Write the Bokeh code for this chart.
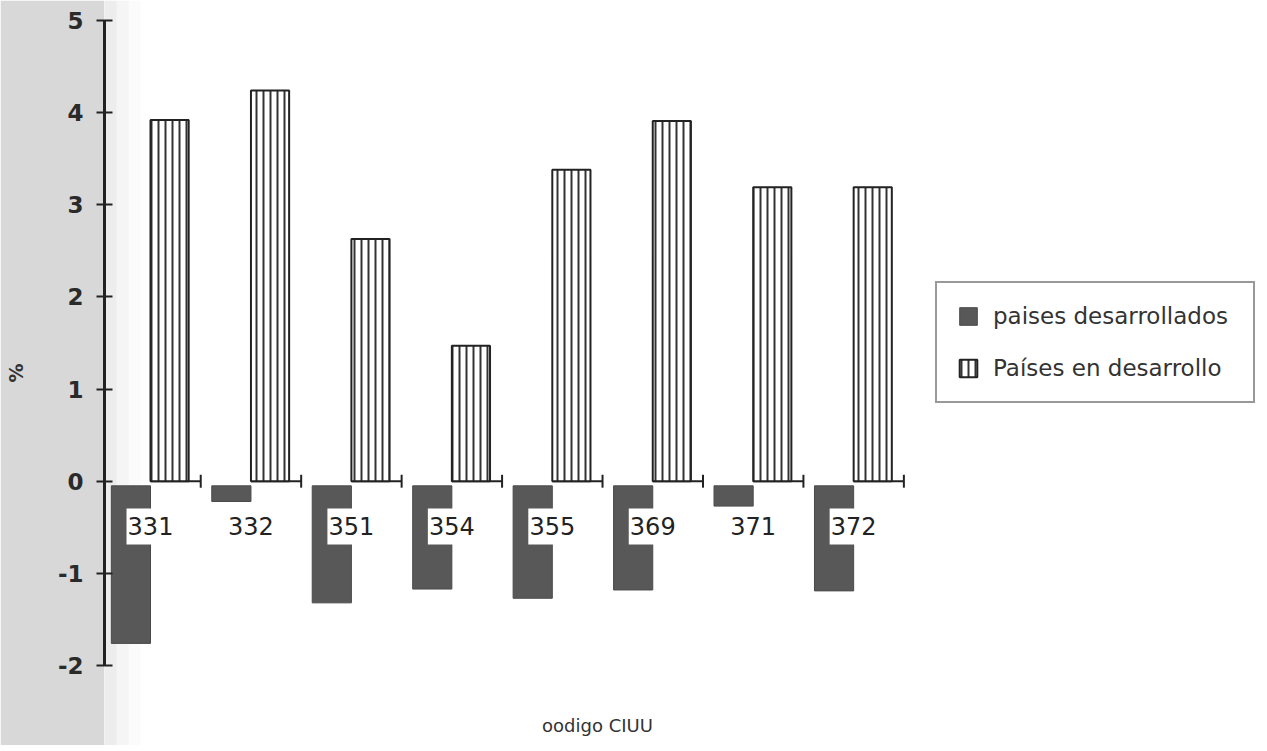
from bokeh.plotting import figure
from bokeh.models import (ColumnDataSource, Legend, LegendItem, LabelSet, Label,
                          FixedTicker, Range1d, BoxAnnotation, PrintfTickFormatter)
from bokeh.core.properties import value
from bokeh.embed import file_html
from bokeh.resources import INLINE

# ---- data ----
categories = ["331", "332", "351", "354", "355", "369", "371", "372"]
desarrollados = [-1.76, -0.22, -1.32, -1.17, -1.27, -1.18, -0.27, -1.19]
en_desarrollo = [3.92, 4.24, 2.63, 1.47, 3.38, 3.91, 3.19, 3.19]
y_ticks = [-2, -1, 0, 1, 2, 3, 4, 5]
x_label = "oodigo CIUU"
y_label = "%"
series_names = ["paises desarrollados", "Países en desarrollo"]

idx = list(range(len(categories)))
src = ColumnDataSource(dict(
    cat=categories,
    xd=[i - 0.195 for i in idx],
    xh=[i + 0.19 for i in idx],
    dev=desarrollados,
    dev_top=[-0.05] * len(idx),
    hat=en_desarrollo,
    lx=idx,
    ly=[-0.49] * len(idx),
    bx0=idx,
    bx1=[i + 0.5 for i in idx],
    by=[0.0] * len(idx),
    tx=[i + 0.5 for i in idx],
    ty0=[-0.07] * len(idx),
    ty1=[0.07] * len(idx),
))

p = figure(width=1267, height=745, output_backend="svg", toolbar_location=None,
           x_range=Range1d(-0.458, 11.12), y_range=Range1d(-2.868, 5.217),
           min_border_left=104, min_border_right=0, min_border_top=0,
           min_border_bottom=0)
p.outline_line_color = None
p.xgrid.visible = False
p.ygrid.visible = False
p.xaxis.visible = False
p.background_fill_color = "white"
p.border_fill_color = "#d8d8d8"

# scan shading fading to the right of the axis
for x0, x1, a in [(-0.458, -0.338, 0.45), (-0.338, -0.218, 0.25),
                  (-0.218, -0.098, 0.1)]:
    p.add_layout(BoxAnnotation(left=x0, right=x1, fill_color="#d8d8d8",
                               fill_alpha=a, line_color=None, level="underlay"))

yax = p.yaxis[0]
yax.ticker = FixedTicker(ticks=y_ticks)
yax.formatter = PrintfTickFormatter(format="%d")
yax.bounds = (-2, 5)
yax.axis_line_width = 3
yax.axis_line_color = "#222222"
yax.major_tick_line_width = 2
yax.major_tick_line_color = "#222222"
yax.major_tick_in = 8
yax.major_tick_out = 8
yax.minor_tick_line_color = None
yax.major_label_standoff = 13
yax.major_label_text_font = "DejaVu Sans"
yax.major_label_text_font_style = "bold"
yax.major_label_text_font_size = "23px"
yax.major_label_text_color = "#2a2a2a"
yax.axis_label = y_label
yax.axis_label_standoff = 28
yax.axis_label_text_font = "DejaVu Sans"
yax.axis_label_text_font_style = "bold"
yax.axis_label_text_font_size = "19px"
yax.axis_label_text_color = "#333333"

# baseline segments with end ticks
p.segment(x0="bx0", y0="by", x1="bx1", y1="by", source=src,
          line_color="#222222", line_width=2)
p.segment(x0="tx", y0="ty0", x1="tx", y1="ty1", source=src,
          line_color="#222222", line_width=2)

r_dev = p.vbar(x="xd", width=0.39, top="dev_top", bottom="dev", source=src,
               fill_color="#585858", line_color="#4a4a4a", line_width=1)
r_hat = p.vbar(x="xh", width=0.38, top="hat", bottom=0, source=src,
               fill_color="white", line_color="#222222", line_width=2,
               hatch_pattern="vertical_line", hatch_color="#333333",
               hatch_scale=7, hatch_weight=2)

# white boxes behind the category codes
p.rect(x="lx", y="ly", width=48, height=36, width_units="screen",
       height_units="screen", source=src, fill_color="white", line_color=None)

labels = LabelSet(x="lx", y="ly", text="cat", source=src,
                  text_align="center", text_baseline="middle",
                  text_font=value("DejaVu Sans"), text_font_size="24px",
                  text_color="#222222")
p.add_layout(labels)

p.add_layout(Label(x=4.45, y=-2.65, text=x_label, text_align="center",
                   text_baseline="middle", text_font="DejaVu Sans",
                   text_font_size="18px", text_color="#333333"))

legend = Legend(items=[LegendItem(label=series_names[0], renderers=[r_dev]),
                       LegendItem(label=series_names[1], renderers=[r_hat])],
                location=(831, 342), orientation="vertical",
                border_line_color="#333333", border_line_width=2,
                background_fill_color="white", background_fill_alpha=1,
                padding=20, spacing=26, glyph_width=22, glyph_height=22,
                label_standoff=14, label_width=240, label_height=22,
                label_text_font="DejaVu Sans", label_text_font_size="23px",
                label_text_color="#333333")
p.add_layout(legend)

open("out.html", "w").write(file_html(p, INLINE))
